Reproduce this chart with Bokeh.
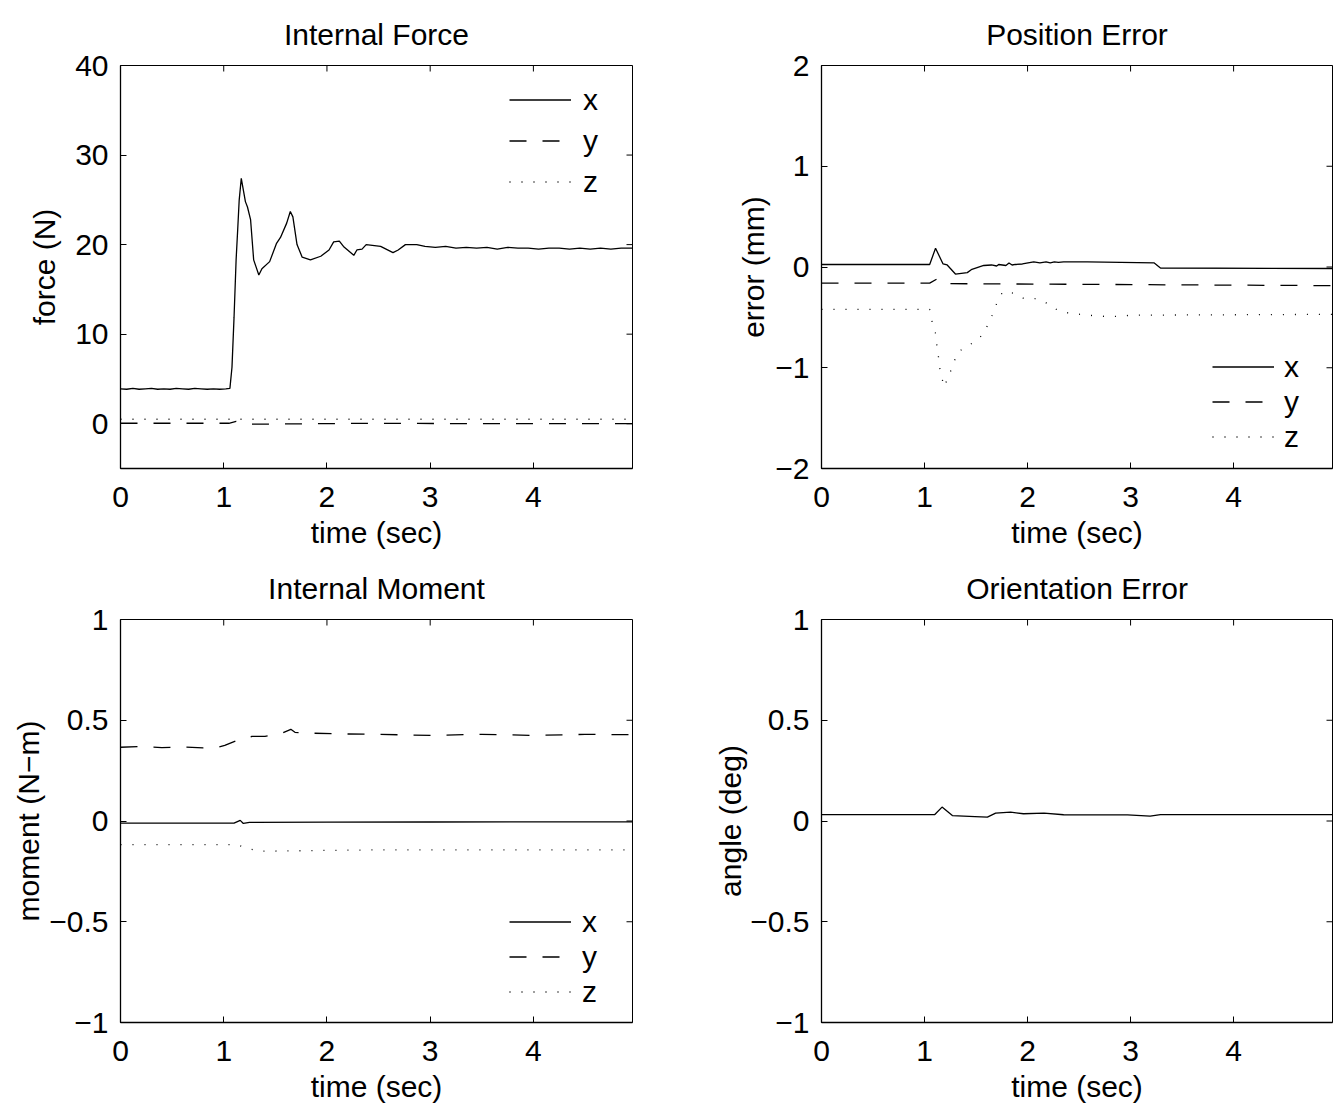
import math
from bokeh.plotting import figure
from bokeh.layouts import row, column
from bokeh.models import Range1d, FixedTicker, Legend, LegendItem
from bokeh.embed import file_html
from bokeh.resources import INLINE

FONT = "Liberation Sans"
FS = "30px"

# ---------------- data ----------------
x_ticks = [0, 1, 2, 3, 4]
X_END = 4.96

# Internal Force (N)
force_x_t = [0.00, 0.06, 0.12, 0.18, 0.24, 0.30, 0.36, 0.42, 0.48, 0.54, 0.60, 0.66, 0.72, 0.78,
             0.84, 0.90, 0.96, 1.02, 1.06, 1.08, 1.10, 1.12, 1.135, 1.15, 1.17, 1.21, 1.23, 1.26,
             1.29, 1.34, 1.37, 1.445, 1.51, 1.55, 1.61, 1.645, 1.67, 1.71, 1.76, 1.84, 1.94, 2.02,
             2.065, 2.12, 2.16, 2.26, 2.29, 2.34, 2.38, 2.52, 2.64, 2.69, 2.76, 2.87, 2.95, 3.05,
             3.15, 3.25, 3.35, 3.45, 3.55, 3.65, 3.75, 3.85, 3.95, 4.05, 4.15, 4.25, 4.35, 4.45,
             4.55, 4.65, 4.75, 4.85, 4.96]
force_x = [3.9, 3.85, 3.95, 3.85, 3.9, 3.95, 3.85, 3.9, 3.85, 3.95, 3.9, 3.85, 3.95, 3.9,
           3.85, 3.9, 3.85, 3.9, 3.95, 6.3, 11.9, 18.3, 21.6, 25.0, 27.4, 24.8, 24.2, 22.8,
           18.3, 16.6, 17.3, 18.1, 20.1, 20.8, 22.4, 23.7, 23.1, 20.0, 18.6, 18.3, 18.7, 19.4,
           20.3, 20.4, 19.8, 18.8, 19.4, 19.5, 20.0, 19.8, 19.1, 19.4, 20.0, 20.0, 19.8, 19.7,
           19.8, 19.6, 19.7, 19.6, 19.7, 19.5, 19.7, 19.6, 19.6, 19.5, 19.6, 19.6, 19.5, 19.6,
           19.5, 19.6, 19.5, 19.6, 19.6]
force_y_t = [0.00, 1.05, 1.12, 1.20, 1.30, 2.50, 3.50, 4.96]
force_y = [0.05, 0.05, 0.25, 0.0, -0.05, 0.05, 0.0, 0.0]
force_z_t = [0.00, 1.10, 2.50, 4.96]
force_z = [0.5, 0.5, 0.5, 0.5]

# Position Error (mm)
pos_x_t = [0.00, 1.05, 1.107, 1.18, 1.22, 1.30, 1.415, 1.46, 1.575, 1.65, 1.70, 1.72, 1.79, 1.82,
           1.85, 1.88, 1.95, 2.06, 2.12, 2.18, 2.22, 2.26, 2.30, 2.35, 2.58, 3.23, 3.29, 4.96]
pos_x = [0.025, 0.025, 0.186, 0.03, 0.02, -0.07, -0.056, -0.023, 0.015, 0.02, 0.01, 0.025, 0.015, 0.04,
         0.02, 0.025, 0.03, 0.05, 0.04, 0.05, 0.04, 0.05, 0.045, 0.05, 0.05, 0.04, -0.01, -0.015]
pos_y_t = [0.00, 1.05, 1.12, 1.16, 4.96]
pos_y = [-0.16, -0.16, -0.12, -0.165, -0.185]
pos_z_t = [0.00, 1.05, 1.07, 1.107, 1.12, 1.135, 1.15, 1.19, 1.24, 1.28, 1.32, 1.40, 1.495, 1.575,
           1.62, 1.67, 1.71, 1.76, 1.87, 1.96, 2.06, 2.165, 2.255, 2.35, 2.58, 2.80, 3.02, 4.96]
pos_z = [-0.42, -0.42, -0.53, -0.66, -0.78, -0.89, -1.02, -1.19, -1.07, -0.96, -0.85, -0.79, -0.74, -0.66,
         -0.56, -0.45, -0.335, -0.245, -0.26, -0.31, -0.31, -0.345, -0.41, -0.45, -0.478, -0.494, -0.478, -0.47]

# Internal Moment (N-m)
mom_x_t = [0.00, 1.10, 1.16, 1.19, 1.25, 2.00, 3.00, 4.96]
mom_x = [-0.011, -0.011, 0.003, -0.012, -0.007, -0.006, -0.005, -0.004]
mom_y_t = [0.00, 0.20, 0.40, 0.60, 0.80, 0.94, 1.01, 1.13, 1.275, 1.40, 1.565, 1.65, 1.69, 1.84,
           2.16, 2.50, 3.00, 3.50, 4.00, 4.50, 4.96]
mom_y = [0.366, 0.370, 0.364, 0.368, 0.363, 0.366, 0.375, 0.400, 0.420, 0.420, 0.436, 0.455, 0.440, 0.436,
         0.432, 0.430, 0.425, 0.430, 0.425, 0.430, 0.428]
mom_z_t = [0.00, 1.13, 1.22, 1.34, 2.50, 4.96]
mom_z = [-0.117, -0.117, -0.135, -0.150, -0.143, -0.143]

# Orientation Error (deg)
ang_t = [0.00, 1.10, 1.17, 1.27, 1.49, 1.61, 1.69, 1.835, 1.96, 2.16, 2.35, 2.97, 3.19, 3.29, 4.96]
ang = [0.032, 0.032, 0.069, 0.027, 0.022, 0.019, 0.039, 0.044, 0.036, 0.039, 0.031, 0.030, 0.024, 0.032, 0.032]

force_ticks = [0, 10, 20, 30, 40]
pos_ticks = [-2, -1, 0, 1, 2]
unit_ticks = [-1, -0.5, 0, 0.5, 1]

DASH = "17 16"
DOT = "1 11"
LW = 1.3


def lab(v):
    s = ("%g" % v)
    return s.replace("-", "\u2212")


def make_fig(title, ylabel, yr, yticks, width, left, right, top, bottom, ylab_standoff):
    p = figure(width=width, height=553, x_range=Range1d(0, X_END), y_range=Range1d(*yr),
               output_backend="svg", toolbar_location=None,
               min_border_left=left, min_border_right=right,
               min_border_top=top, min_border_bottom=bottom)
    p.xgrid.visible = False
    p.ygrid.visible = False
    p.outline_line_color = "black"
    p.outline_line_width = 1
    p.background_fill_color = "white"
    p.border_fill_color = "white"

    p.title.text = title
    p.title.align = "center"
    p.title.text_font = FONT
    p.title.text_font_size = FS
    p.title.text_font_style = "normal"
    p.title.text_color = "black"
    p.title.standoff = 30

    for ax, ticks in ((p.xaxis[0], x_ticks), (p.yaxis[0], yticks)):
        ax.ticker = FixedTicker(ticks=ticks)
        ax.major_label_overrides = {t: lab(t) for t in ticks}
        ax.major_tick_in = 6
        ax.major_tick_out = 0
        ax.minor_tick_line_color = None
        ax.major_label_text_font = FONT
        ax.major_label_text_font_size = FS
        ax.major_label_text_color = "black"
        ax.axis_label_text_font = FONT
        ax.axis_label_text_font_size = FS
        ax.axis_label_text_font_style = "normal"
        ax.axis_label_text_color = "black"
        ax.axis_line_color = "black"
        ax.axis_line_width = 1.3
        ax.major_tick_line_color = "black"
    p.xaxis[0].axis_label = "time (sec)"
    p.xaxis[0].major_label_standoff = 18
    p.xaxis[0].axis_label_standoff = 6
    p.yaxis[0].axis_label = ylabel
    p.yaxis[0].major_label_standoff = 12
    p.yaxis[0].axis_label_standoff = ylab_standoff

    # mirrored inward ticks on the right and top edges of the box
    y0, y1 = yr
    p.ray(x=[X_END] * len(yticks), y=yticks, length=6, length_units="screen",
          angle=math.pi, line_color="black", line_width=1)
    p.ray(x=x_ticks, y=[y1] * len(x_ticks), length=6, length_units="screen",
          angle=-math.pi / 2, line_color="black", line_width=1)
    return p


def add_lines(p, series, legend_xy, row_h, standoff):
    items = []
    for (t, v, dash, name) in series:
        r = p.line(t, v, line_color="black", line_width=LW, line_dash=dash)
        items.append(LegendItem(label=name, renderers=[r]))
    if legend_xy is not None:
        lg = Legend(items=items, location=legend_xy, orientation="vertical",
                    label_text_font=FONT, label_text_font_size=FS, label_text_color="black",
                    glyph_width=62, glyph_height=row_h, label_height=row_h, spacing=0,
                    padding=0, margin=0, label_standoff=standoff,
                    border_line_color=None, background_fill_alpha=0)
        p.add_layout(lg, "center")


p1 = make_fig("Internal Force", "force (N)", (-5, 40), force_ticks, 667, 120, 35, 65, 85, 11)
add_lines(p1, [(force_x_t, force_x, "solid", "x"),
               (force_y_t, force_y, DASH, "y"),
               (force_z_t, force_z, DOT, "z")], (389, 266), 41, 12)

p2 = make_fig("Position Error", "error (mm)", (-2, 2), pos_ticks, 666, 154, 1, 65, 85, 2)
add_lines(p2, [(pos_x_t, pos_x, "solid", "x"),
               (pos_y_t, pos_y, DASH, "y"),
               (pos_z_t, pos_z, DOT, "z")], (391, 14), 35, 10)

p3 = make_fig("Internal Moment", "moment (N\u2212m)", (-1, 1), unit_ticks, 667, 120, 35, 66, 84, 1)
add_lines(p3, [(mom_x_t, mom_x, "solid", "x"),
               (mom_y_t, mom_y, DASH, "y"),
               (mom_z_t, mom_z, DOT, "z")], (389, 13), 35, 11)

p4 = make_fig("Orientation Error", "angle (deg)", (-1, 1), unit_ticks, 666, 154, 1, 66, 84, 0)
add_lines(p4, [(ang_t, ang, "solid", "x")], None, 35, 10)

layout = column(row(p1, p2), row(p3, p4))

with open("out.html", "w") as f:
    f.write(file_html(layout, INLINE))
